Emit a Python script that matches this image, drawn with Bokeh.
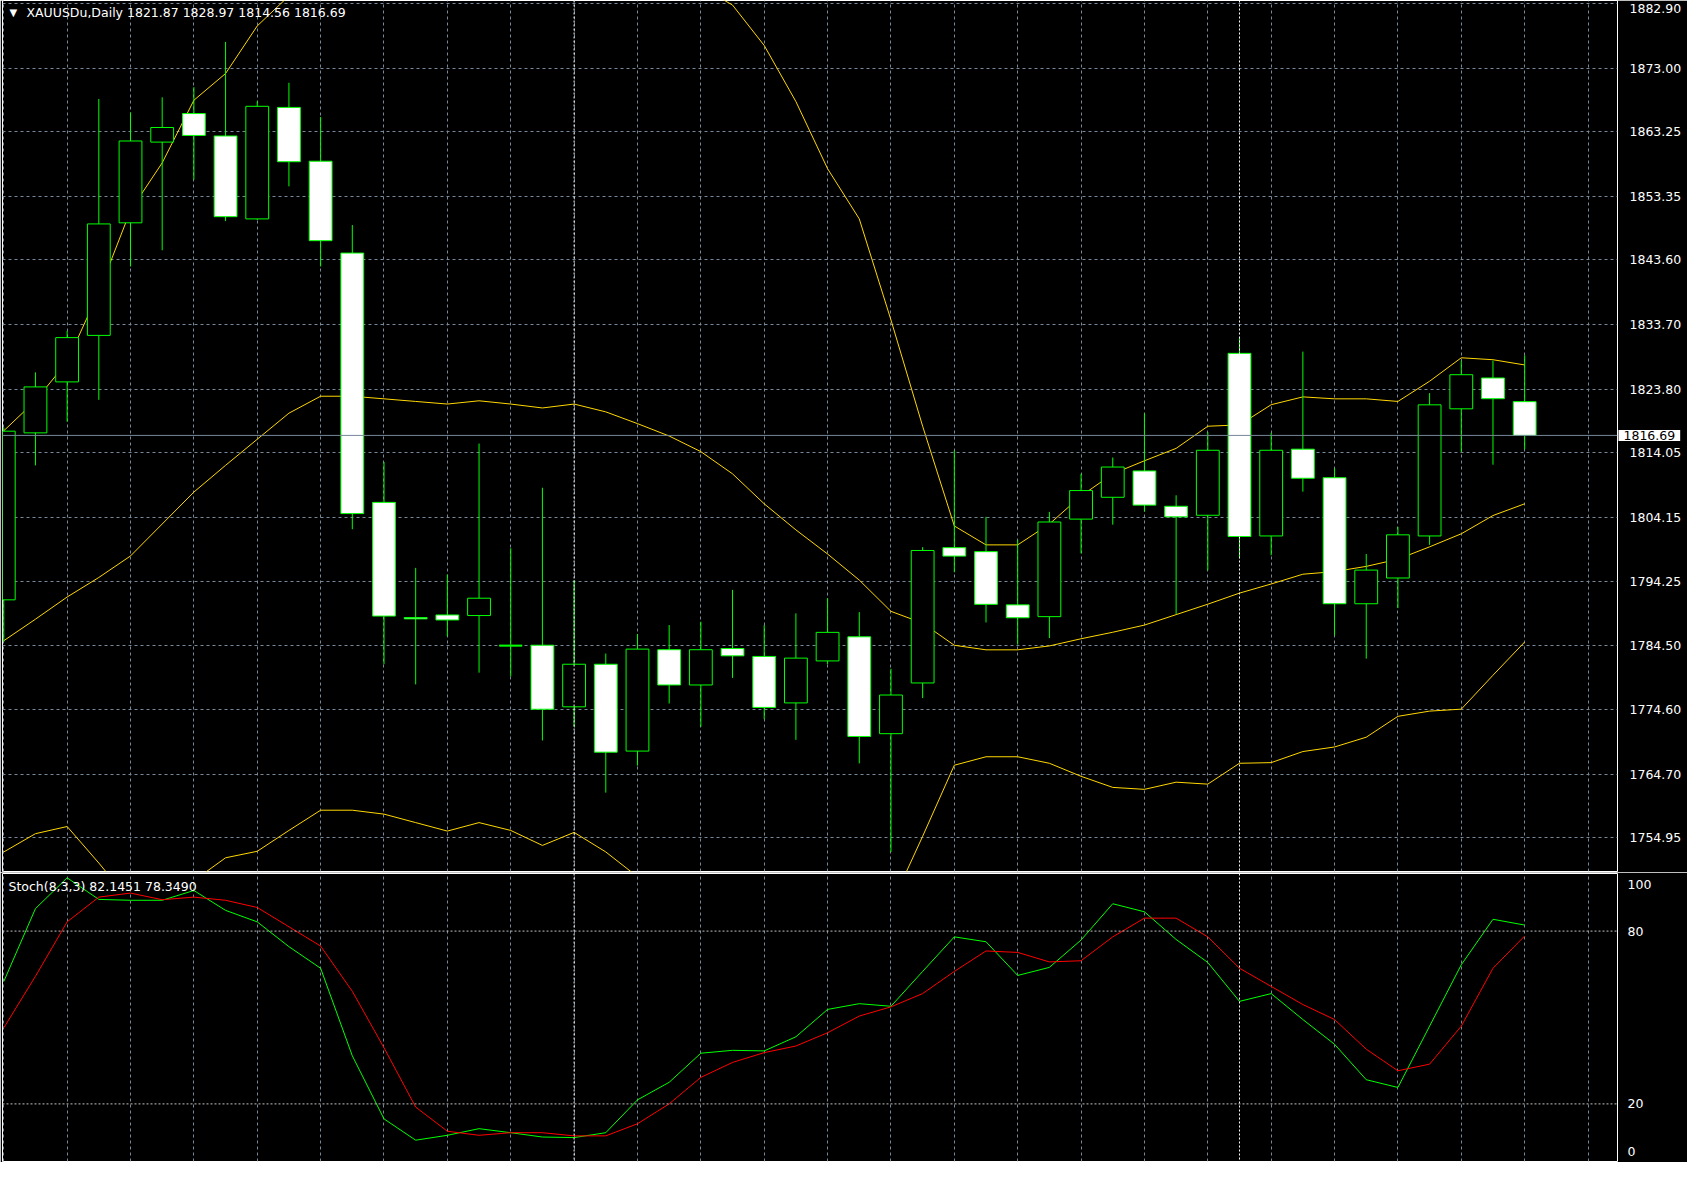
from bokeh.plotting import figure
from bokeh.models import (ColumnDataSource, Range1d, FixedTicker, Span, Label,
                          NumeralTickFormatter, Grid)
from bokeh.layouts import column
from bokeh.embed import file_html
from bokeh.resources import INLINE

# ---------------- data ----------------
symbol_title = "XAUUSDu,Daily  1821.87 1828.97 1814.56 1816.69"
stoch_title = "Stoch(8,3,3) 82.1451 78.3490"

opens = [1791.47, 1817.08, 1824.90, 1832.03, 1849.30, 1861.68, 1866.06, 1862.62, 1849.90, 1867.00,
         1858.75, 1844.66, 1806.42, 1788.75, 1789.15, 1789.06, 1784.45, 1784.51, 1775.06, 1781.59,
         1768.27, 1783.82, 1778.41, 1784.00, 1782.79, 1775.66, 1782.10, 1785.80, 1770.94, 1778.72,
         1799.47, 1798.86, 1790.70, 1788.89, 1803.85, 1807.20, 1811.24, 1805.82, 1804.44, 1829.28,
         1801.27, 1814.58, 1810.20, 1790.87, 1794.82, 1801.27, 1820.77, 1825.50, 1821.87]
highs = [1817.90, 1826.36, 1832.72, 1868.29, 1866.23, 1868.55, 1870.10, 1877.05, 1867.95, 1870.78,
         1865.54, 1848.96, 1812.61, 1796.37, 1795.34, 1815.44, 1799.38, 1808.66, 1794.48, 1783.23,
         1786.23, 1787.60, 1788.12, 1793.00, 1787.60, 1789.40, 1791.73, 1789.58, 1780.90, 1799.55,
         1814.40, 1804.20, 1800.67, 1804.96, 1810.80, 1813.30, 1820.10, 1807.50, 1817.20, 1831.69,
         1817.10, 1829.54, 1811.66, 1798.50, 1802.64, 1823.18, 1828.16, 1828.16, 1828.97]
lows = [1785.02, 1812.09, 1818.80, 1822.15, 1842.60, 1845.09, 1855.92, 1849.56, 1849.73, 1854.89,
        1842.60, 1802.30, 1781.59, 1778.50, 1785.88, 1780.30, 1779.70, 1769.90, 1772.00, 1761.90,
        1766.04, 1775.57, 1772.00, 1779.50, 1773.17, 1769.99, 1781.59, 1766.38, 1752.80, 1776.40,
        1795.70, 1788.00, 1784.60, 1785.60, 1798.60, 1803.00, 1805.00, 1789.30, 1796.00, 1797.83,
        1798.30, 1808.06, 1786.00, 1782.45, 1790.20, 1799.90, 1814.16, 1812.20, 1814.56]
closes = [1817.34, 1824.13, 1831.69, 1849.13, 1861.85, 1863.92, 1862.70, 1850.24, 1867.17, 1858.67,
          1846.56, 1804.70, 1788.98, 1788.55, 1788.38, 1791.72, 1784.45, 1774.69, 1781.59, 1768.10,
          1783.91, 1778.41, 1783.82, 1782.88, 1774.97, 1782.53, 1786.48, 1770.51, 1776.87, 1799.04,
          1798.18, 1790.78, 1788.72, 1803.41, 1808.23, 1811.84, 1806.00, 1804.20, 1814.41, 1801.18,
          1814.41, 1810.12, 1790.87, 1796.03, 1801.44, 1821.38, 1826.00, 1822.32, 1816.69]

bb_upper = [1817.4, 1822.0, 1828.0, 1838.7, 1851.2, 1858.5, 1868.1, 1872.2, 1879.5, 1884.1,
            1886.2, 1886.2, 1886.0, 1886.5, 1887.0, 1886.7, 1886.9, 1888.0, 1887.2, 1887.8,
            1888.0, 1887.0, 1885.5, 1882.7, 1876.5, 1867.9, 1857.6, 1849.9, 1834.4, 1818.1,
            1802.8, 1799.9, 1799.9, 1803.1, 1807.4, 1810.8, 1812.8, 1814.7, 1818.1, 1818.3,
            1821.4, 1822.6, 1822.3, 1822.3, 1821.9, 1825.0, 1828.6, 1828.3, 1827.5]
bb_middle = [1785.2, 1788.5, 1791.9, 1794.9, 1798.2, 1803.1, 1808.0, 1812.1, 1816.1, 1820.1,
             1822.7, 1822.7, 1822.3, 1821.9, 1821.5, 1822.0, 1821.5, 1820.9, 1821.5, 1820.3,
             1818.5, 1816.6, 1814.2, 1810.8, 1806.2, 1802.2, 1798.5, 1794.5, 1789.7, 1787.9,
             1784.5, 1783.8, 1783.8, 1784.4, 1785.5, 1786.5, 1787.6, 1789.2, 1790.8, 1792.5,
             1793.9, 1795.4, 1795.8, 1796.6, 1797.7, 1799.6, 1801.6, 1804.4, 1806.2]
bb_lower = [1752.8, 1755.6, 1756.7, 1751.1, 1745.2, 1747.7, 1748.4, 1751.9, 1752.9, 1756.1,
            1759.2, 1759.2, 1758.6, 1757.3, 1756.0, 1757.3, 1756.1, 1753.8, 1755.8, 1752.8,
            1749.0, 1746.2, 1742.9, 1738.9, 1735.9, 1736.5, 1739.4, 1739.1, 1744.6, 1755.2,
            1766.1, 1767.4, 1767.4, 1766.4, 1764.4, 1762.7, 1762.4, 1763.5, 1763.2, 1766.4,
            1766.5, 1768.2, 1768.9, 1770.4, 1773.6, 1774.4, 1774.7, 1779.9, 1785.0]

stoch_main = [62.5, 87.8, 98.5, 91.0, 90.7, 90.7, 94.1, 87.2, 83.2, 74.6,
              67.1, 36.7, 14.8, 7.4, 9.1, 11.4, 10.0, 8.5, 8.3, 10.0,
              21.4, 27.5, 37.6, 38.6, 38.4, 43.3, 52.8, 54.8, 53.9, 66.0,
              78.0, 76.3, 64.6, 67.4, 76.9, 89.5, 86.7, 77.1, 69.1, 55.6,
              58.3, 49.3, 40.7, 28.4, 25.7, 47.0, 68.3, 84.1, 82.1]
stoch_signal = [46.4, 64.3, 83.2, 91.8, 93.2, 90.9, 91.8, 90.7, 88.2, 81.5,
                74.8, 59.1, 39.5, 18.9, 10.5, 9.1, 10.0, 10.0, 8.9, 8.9,
                13.1, 20.0, 29.2, 34.4, 37.8, 40.1, 44.7, 50.5, 53.7, 58.3,
                66.0, 73.1, 72.6, 69.3, 69.7, 78.0, 84.5, 84.5, 78.0, 67.1,
                60.8, 54.5, 49.3, 39.0, 31.5, 33.8, 47.0, 67.1, 78.3]

price_ticks = [1754.95, 1764.70, 1774.60, 1784.50, 1794.25, 1804.15, 1814.05,
               1823.80, 1833.70, 1843.60, 1853.35, 1863.25, 1873.00, 1882.90]
stoch_levels = [20, 80]
stoch_tick_labels = {3.6: "0", 20: "20", 80: "80", 96.1: "100"}
separators = [18, 39]
last_price = 1816.69

# ---------------- styling ----------------
FONT = "DejaVu Sans"
AXIS_FS = 12.5
GRID = "#778899"
CANDLE = "#00FF00"
BAND = "#FFD700"
X0, X1 = -0.04, 50.93
Y0, Y1 = 1749.8, 1883.4
FRAME_W = 1615

idx = list(range(len(opens)))
body_top = [max(o, c) for o, c in zip(opens, closes)]
body_bot = [min(o, c) for o, c in zip(opens, closes)]
body_fill = ["black" if c > o else "white" for o, c in zip(opens, closes)]
src = ColumnDataSource(dict(x=idx, o=opens, h=highs, l=lows, c=closes,
                            top=body_top, bot=body_bot, fill=body_fill))
BODY_W = 0.72
doji = [i for i in idx if abs(opens[i] - closes[i]) < 0.01]
doji_src = ColumnDataSource(dict(x0=[i - BODY_W / 2 for i in doji],
                                 x1=[i + BODY_W / 2 for i in doji],
                                 y=[opens[i] for i in doji]))


def style_common(fig):
    fig.background_fill_color = "black"
    fig.border_fill_color = "black"
    fig.outline_line_color = "white"
    fig.outline_line_width = 1
    fig.xgrid.grid_line_color = None
    fig.ygrid.grid_line_color = None
    vg = Grid(dimension=0, ticker=FixedTicker(ticks=list(range(0, 52, 2))),
              grid_line_color=GRID, grid_line_dash="3 3", grid_line_width=1)
    fig.add_layout(vg)
    for s in separators:
        fig.add_layout(Span(location=s, dimension="height", line_color="white",
                            line_dash="2 2", line_width=1))


# ---------------- main price panel ----------------
p = figure(frame_width=FRAME_W, frame_height=871,
           x_range=Range1d(X0, X1), y_range=Range1d(Y0, Y1),
           x_axis_location=None, y_axis_location="right",
           min_border_left=2, min_border_right=70, min_border_top=0, min_border_bottom=1,
           output_backend="svg", toolbar_location=None)
style_common(p)
hg = Grid(dimension=1, ticker=FixedTicker(ticks=price_ticks),
          grid_line_color=GRID, grid_line_dash="3 3", grid_line_width=1)
p.add_layout(hg)
p.add_layout(Span(location=last_price, dimension="width", line_color=GRID, line_width=1))

p.line(idx, bb_upper, line_color=BAND, line_width=1)
p.line(idx, bb_middle, line_color=BAND, line_width=1)
p.line(idx, bb_lower, line_color=BAND, line_width=1)

p.segment(x0="x", y0="h", x1="x", y1="l", source=src, line_color=CANDLE, line_width=1)
p.vbar(x="x", width=BODY_W, top="top", bottom="bot", source=src,
       fill_color="fill", line_color=CANDLE, line_width=1)
p.segment(x0="x0", y0="y", x1="x1", y1="y", source=doji_src, line_color=CANDLE, line_width=2)

p.add_layout(Label(x=X0, y=Y1, x_offset=7, y_offset=-12, text="\u25bc",
                   text_color="white", text_font=FONT, text_font_size="10px",
                   text_baseline="middle", text_align="left"))
p.add_layout(Label(x=X0, y=Y1, x_offset=24, y_offset=-12, text=symbol_title,
                   text_color="white", text_font=FONT, text_font_size="12.5px",
                   text_baseline="middle", text_align="left"))

# current-price box on the price scale (in the side panel so it is not clipped)
price_box = Label(x=X1, y=last_price, x_offset=1, y_offset=0, text="%.2f" % last_price,
                  text_color="black", text_font=FONT, text_font_size="%gpx" % AXIS_FS,
                  text_baseline="middle", text_align="left",
                  background_fill_color="white")
try:
    price_box.padding = dict(left=5, right=5, top=1, bottom=1)
    pad_lr = 10
except Exception:
    price_box.padding = 3
    pad_lr = 6
p.add_layout(price_box, "right")
p.right = [price_box] + [r for r in p.right if r is not price_box]

text_w = 4.134 * AXIS_FS              # approx. width of "1816.69" in DejaVu Sans
box_w = text_w + pad_lr

# the topmost price label is nudged down a little so it is not cut by the edge
axis_ticks = price_ticks[:-1] + [price_ticks[-1] - 0.8]
axis_overrides = {axis_ticks[-1]: "%.2f" % price_ticks[-1]}

ya = [r for r in p.right if r is not price_box][0]
ya.ticker = FixedTicker(ticks=axis_ticks)
ya.formatter = NumeralTickFormatter(format="0.00")
ya.major_label_overrides = axis_overrides
ya.axis_line_color = None          # the white frame outline is the scale line
ya.major_tick_line_color = None
ya.minor_tick_line_color = None
ya.major_label_standoff = int(round(6 - box_w))   # labels start 6px right of the frame
ya.major_label_text_color = "white"
ya.major_label_text_font = FONT
ya.major_label_text_font_size = "%gpx" % AXIS_FS

# ---------------- stochastic panel ----------------
s = figure(frame_width=FRAME_W, frame_height=288,
           x_range=p.x_range, y_range=Range1d(0, 100),
           x_axis_location=None, y_axis_location="right",
           min_border_left=2, min_border_right=70, min_border_top=1, min_border_bottom=1,
           output_backend="svg", toolbar_location=None)
style_common(s)
for lv in stoch_levels:
    s.add_layout(Span(location=lv, dimension="width", line_color="#C0C0C0",
                      line_dash="2 2", line_width=1))
s.line(idx, stoch_main, line_color="#00FF00", line_width=1)
s.line(idx, stoch_signal, line_color="#FF0000", line_width=1)

sa = s.yaxis[0]
sa.ticker = FixedTicker(ticks=list(stoch_tick_labels.keys()))
sa.major_label_overrides = stoch_tick_labels
sa.axis_line_color = None
sa.major_tick_line_color = None
sa.minor_tick_line_color = None
sa.major_label_standoff = 4
sa.major_label_text_color = "white"
sa.major_label_text_font = FONT
sa.major_label_text_font_size = "%gpx" % AXIS_FS

s.add_layout(Label(x=X0, y=100, x_offset=6, y_offset=-13, text=stoch_title,
                   text_color="white", text_font=FONT, text_font_size="12.5px",
                   text_baseline="middle", text_align="left"))

layout = column(p, s, spacing=0)
open("out.html", "w").write(file_html(layout, INLINE))
